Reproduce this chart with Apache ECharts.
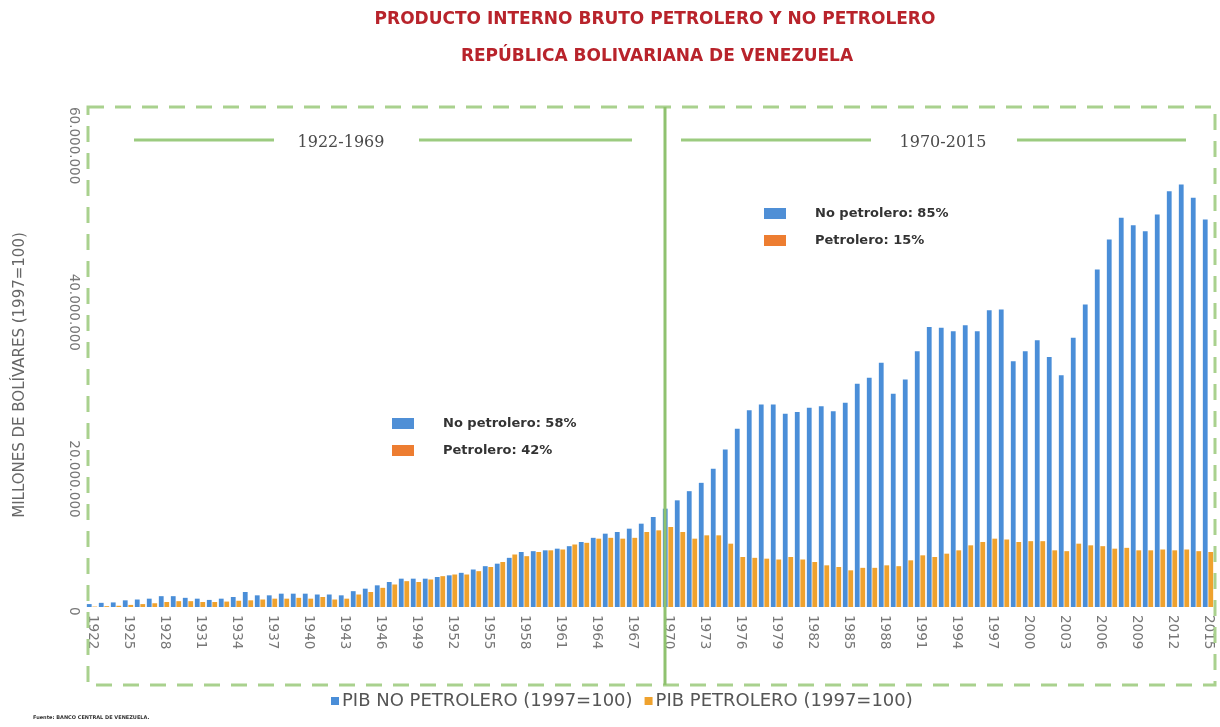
<!DOCTYPE html>
<html>
<head>
<meta charset="utf-8">
<script src="https://cdn.jsdelivr.net/npm/echarts@6/dist/echarts.min.js"></script>
<style>
  html, body { margin: 0; padding: 0; background: #ffffff; }
  #chart { width: 1220px; height: 727px; }
</style>
</head>
<body>
<div id="chart"></div>
<script>
// Years on the category axis
const years = [];
for (let y = 1922; y <= 2015; y++) years.push(String(y));

// PIB no petrolero, millones de bolívares (1997=100), 1922-2015
const noPetrolero = [
  0.35, 0.5, 0.55, 0.8, 0.9, 1.0, 1.3, 1.3,
  1.1, 1.0, 0.85, 1.0, 1.2, 1.8, 1.4, 1.4, 1.6, 1.6,
  1.6, 1.5, 1.5, 1.4, 1.9, 2.2, 2.6, 3.0, 3.4, 3.4,
  3.4, 3.6, 3.8, 4.1, 4.5, 4.9, 5.2, 5.9, 6.6, 6.7,
  6.8, 7.0, 7.3, 7.8, 8.3, 8.8, 9.0, 9.4, 10.0, 10.8,
  11.8, 12.8, 13.9, 14.9, 16.6, 18.9, 21.4, 23.6, 24.3, 24.3,
  23.2, 23.4, 23.9, 24.1, 23.5, 24.5, 26.8, 27.5, 29.3, 25.6,
  27.3, 30.7, 33.6, 33.5, 33.1, 33.8, 33.1, 35.6, 35.7, 29.5,
  30.7, 32.0, 30.0, 27.8, 32.3, 36.3, 40.5, 44.1, 46.7, 45.8,
  45.1, 47.1, 49.9, 50.7, 49.1, 46.5
];

// PIB petrolero, millones de bolívares (1997=100), 1922-2015
const petrolero = [
  0.05, 0.1, 0.15, 0.25, 0.35, 0.45, 0.6, 0.7,
  0.7, 0.6, 0.6, 0.65, 0.75, 0.8, 0.9, 1.0, 1.0, 1.1,
  1.0, 1.2, 0.9, 1.0, 1.5, 1.8, 2.3, 2.7, 3.1, 3.0,
  3.3, 3.7, 3.9, 3.9, 4.3, 4.8, 5.4, 6.3, 6.1, 6.6,
  6.8, 6.9, 7.5, 7.7, 8.2, 8.3, 8.2, 8.3, 9.0, 9.2,
  9.6, 9.0, 8.2, 8.6, 8.6, 7.6, 6.0, 5.9, 5.8, 5.7,
  6.0, 5.7, 5.4, 5.0, 4.8, 4.4, 4.7, 4.7, 5.0, 4.9,
  5.6, 6.2, 6.0, 6.4, 6.8, 7.4, 7.8, 8.2, 8.1, 7.8,
  7.9, 7.9, 6.8, 6.7, 7.6, 7.4, 7.3, 7.0, 7.1, 6.8,
  6.8, 6.9, 6.8, 6.9, 6.7, 6.6
];

// Value axis in millions; ticks every 20 millions
const yMin = 0, yMax = 60, yStep = 20;

// Period shares shown in the inner keys
const periodos = ['1922-1969', '1970-2015'];
const sharesNoPetrolero = ['58%', '85%'];
const sharesPetrolero = ['42%', '15%'];

const seriesNames = ['PIB NO PETROLERO (1997=100)', 'PIB PETROLERO (1997=100)'];

const BLUE = '#4a8ed8';
const ORANGE = '#efa22e';
const GREEN = '#9ccb80';
const GREEN_LINE = '#8fc26f';

function thousands(n) {
  const s = String(Math.round(n));
  return s.replace(/\B(?=(\d{3})+(?!\d))/g, '.');
}

const chart = echarts.init(document.getElementById('chart'), null, { renderer: 'canvas' });

const option = {
  backgroundColor: '#ffffff',
  animation: false,
  grid: { left: 86, right: 6, top: 107, bottom: 120, containLabel: false },
  legend: {
    data: seriesNames,
    left: 326,
    top: 687,
    icon: 'rect',
    itemWidth: 8,
    itemHeight: 8,
    itemGap: 12,
    textStyle: { fontFamily: 'DejaVu Sans', fontSize: 18, color: '#555555', padding: [0, 0, 0, -2] }
  },
  xAxis: {
    type: 'category',
    data: years,
    axisLine: { show: false },
    axisTick: { show: false },
    axisLabel: {
      interval: 2,
      rotate: -90,
      margin: 8,
      fontFamily: 'DejaVu Sans',
      fontSize: 13.5,
      color: '#777777'
    }
  },
  yAxis: {
    type: 'value',
    min: yMin,
    max: yMax,
    interval: yStep,
    name: 'MILLONES DE BOLÍVARES (1997=100)',
    nameLocation: 'middle',
    nameRotate: 90,
    nameGap: 58,
    nameTextStyle: { fontFamily: 'DejaVu Sans', fontSize: 15, color: '#666666', padding: [0, 36, 0, 0] },
    axisLine: { show: false },
    axisTick: { show: false },
    splitLine: { show: false },
    axisLabel: {
      rotate: -90,
      align: 'left',
      margin: 6,
      fontFamily: 'DejaVu Sans',
      fontSize: 13.5,
      color: '#777777',
      formatter: v => thousands(v * 1e6)
    }
  },
  series: [
    {
      name: seriesNames[0],
      type: 'bar',
      data: noPetrolero,
      barWidth: '40%',
      barGap: '15%',
      itemStyle: { color: BLUE }
    },
    {
      name: seriesNames[1],
      type: 'bar',
      data: petrolero,
      barWidth: '40%',
      barGap: '15%',
      itemStyle: { color: ORANGE }
    }
  ]
};

chart.setOption(option);

// Decorations: titles, frame, period divider, period headers and inner keys
const px1970 = chart.convertToPixel({ xAxisIndex: 0 }, '1970');
const x1970 = Array.isArray(px1970) ? px1970[0] : px1970;
const frame = { x: 88, y: 107, w: 1127, h: 578 };

function keyBlock(x, y, share1, share2) {
  return [
    { type: 'rect', shape: { x: x, y: y - 6, width: 22, height: 11 }, style: { fill: '#4f8fd6' }, z: 50 },
    { type: 'rect', shape: { x: x, y: y + 21, width: 22, height: 11 }, style: { fill: '#ed7d31' }, z: 50 },
    { type: 'text', style: { x: x + 51, y: y, text: 'No petrolero: ' + share1, font: 'bold 13px "DejaVu Sans"', fill: '#333333', verticalAlign: 'middle' }, z: 50 },
    { type: 'text', style: { x: x + 51, y: y + 27, text: 'Petrolero: ' + share2, font: 'bold 13px "DejaVu Sans"', fill: '#333333', verticalAlign: 'middle' }, z: 50 }
  ];
}

function periodHeader(textX, lineA, lineB, label) {
  return [
    { type: 'line', shape: { x1: lineA[0], y1: 140, x2: lineA[1], y2: 140 }, style: { stroke: GREEN, lineWidth: 3 }, z: 50 },
    { type: 'line', shape: { x1: lineB[0], y1: 140, x2: lineB[1], y2: 140 }, style: { stroke: GREEN, lineWidth: 3 }, z: 50 },
    { type: 'text', style: { x: textX, y: 143, text: label, font: '16px "DejaVu Serif"', fill: '#4a4a4a', align: 'center', verticalAlign: 'middle' }, z: 50 }
  ];
}

chart.setOption({
  graphic: [
    { type: 'text', style: { x: 655, y: 20, text: 'PRODUCTO INTERNO BRUTO PETROLERO Y NO PETROLERO', font: 'bold 17px "DejaVu Sans"', fill: '#b8232b', align: 'center', verticalAlign: 'middle' } },
    { type: 'text', style: { x: 657, y: 57, text: 'REPÚBLICA BOLIVARIANA DE VENEZUELA', font: 'bold 17px "DejaVu Sans"', fill: '#b8232b', align: 'center', verticalAlign: 'middle' } },
    { type: 'rect', shape: { x: frame.x, y: frame.y, width: frame.w, height: frame.h }, style: { fill: 'none', stroke: '#a9d18e', lineWidth: 3, lineDash: [16, 11] }, z: 40 },
    { type: 'line', shape: { x1: x1970 - 3, y1: frame.y, x2: x1970 - 3, y2: frame.y + frame.h }, style: { stroke: GREEN_LINE, lineWidth: 3 }, z: 60 },
    ...periodHeader(341, [134, 274], [419, 632], periodos[0]),
    ...periodHeader(943, [681, 871], [1017, 1186], periodos[1]),
    ...keyBlock(392, 424, sharesNoPetrolero[0], sharesPetrolero[0]),
    ...keyBlock(764, 214, sharesNoPetrolero[1], sharesPetrolero[1]),
    { type: 'text', style: { x: 33, y: 718, text: 'Fuente: BANCO CENTRAL DE VENEZUELA.', font: 'bold 5px "DejaVu Sans"', fill: '#333333', verticalAlign: 'middle' } }
  ]
});
</script>
</body>
</html>
